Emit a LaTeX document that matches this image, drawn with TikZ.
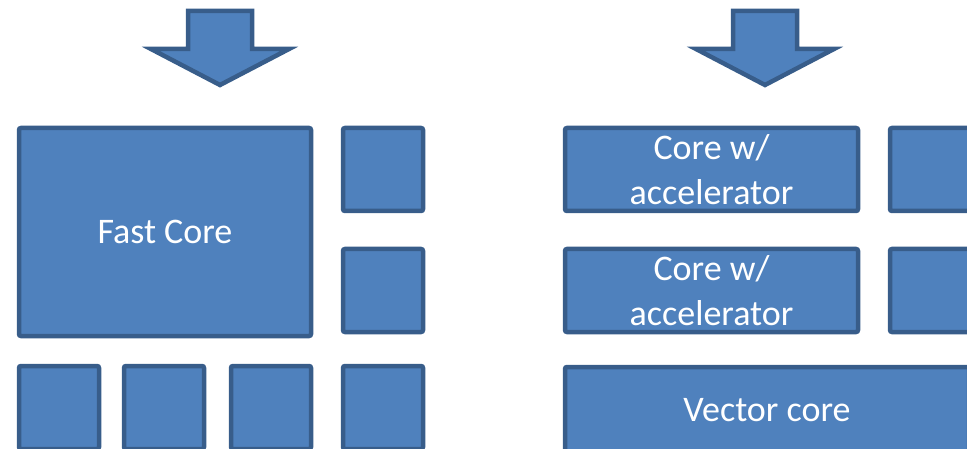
\documentclass[tikz,border=0pt]{standalone}
\usepackage{fontspec}
\setmainfont{Carlito}
\usepackage{tikz}
\usetikzlibrary{positioning}
\definecolor{corefill}{RGB}{79,129,189}
\definecolor{coreedge}{RGB}{56,93,138}
\tikzset{
  block/.style={
      draw=coreedge,
      fill=corefill,
      line width=4.5pt,
      rectangle,
      rounded corners=2pt,
      minimum width=80pt,
      minimum height=83pt,
      inner sep=0pt,
      outer sep=0pt,
      align=center,
      text=white,
      font=\fontsize{36}{45}\selectfont
  },
  downarrow/.style={
      draw=coreedge,
      fill=corefill,
      line width=4.5pt
  }
}
\begin{document}
\begin{tikzpicture}[x=1pt, y=-1pt]
      \clip (0,0) rectangle (967,449);
      % Arrows on top
      \foreach \x in {220,765}
        \draw[downarrow, shift={(\x,0)}] (-32,11) -- (32,11) -- (32,49) -- (69,49)
          -- (0,85) -- (-69,49) -- (-32,49) -- cycle;

      % Left chip
      \node (fast) [block, minimum width=292pt, minimum height=208pt] at (165,232) {Fast Core};
      \node (small1) [block, right=32pt of fast.north east, anchor=north west] {};
      \node (small2) [block, below=38pt of small1] {};
      \node (b1) [block] at (59,407.5) {};
      \node (b2) [block, right=25pt of b1] {};
      \node (b3) [block, right=27pt of b2] {};
      \node (b4) [block, right=32pt of b3] {};

      % Right chip
      \node (acc1) [block, minimum width=293pt] at (711.5,169.5) {Core w/\\accelerator};
      \node (acc2) [block, minimum width=293pt, below=38pt of acc1] {Core w/\\accelerator};
      \node (side1) [block, right=32pt of acc1] {};
      \node (side2) [block, right=32pt of acc2] {};
      \node (vec) [block, minimum width=404pt, minimum height=86pt, below=35pt of acc2.south west, anchor=north west] {Vector core};
\end{tikzpicture}
\end{document}
